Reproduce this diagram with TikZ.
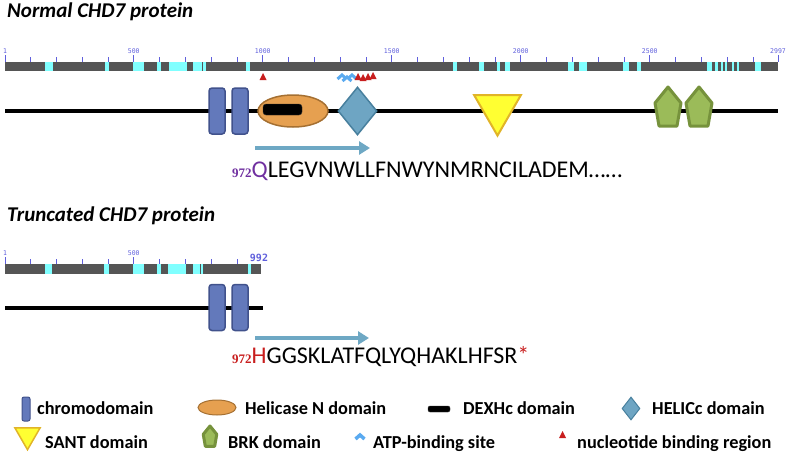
\documentclass[tikz,border=0pt]{standalone}
\usepackage{fontspec}
\setmainfont{Carlito}
\newfontfamily\serifnum{Liberation Serif}
\newfontfamily\rulerfont{DejaVu Sans Mono}
\usetikzlibrary{positioning, arrows.meta, shapes.geometric}
\definecolor{chromoblue}{RGB}{99,121,187}
\definecolor{chromoedge}{RGB}{65,82,140}
\definecolor{helorange}{RGB}{230,160,80}
\definecolor{heledge}{RGB}{165,112,50}
\definecolor{helicblue}{RGB}{110,165,195}
\definecolor{helicedge}{RGB}{72,128,158}
\definecolor{santyellow}{RGB}{255,255,50}
\definecolor{santedge}{RGB}{225,180,40}
\definecolor{brkgreen}{RGB}{155,187,89}
\definecolor{brkedge}{RGB}{118,146,60}
\definecolor{arrowblue}{RGB}{110,168,196}
\definecolor{segcyan}{RGB}{128,255,255}
\definecolor{bargray}{RGB}{85,85,85}
\definecolor{atpblue}{RGB}{90,170,240}
\definecolor{ntred}{RGB}{200,30,30}
\definecolor{qpurple}{RGB}{112,48,160}
\definecolor{rulerblue}{RGB}{95,95,220}
\newcommand{\titlefont}{\fontsize{21}{24}\selectfont\bfseries\itshape}
\newcommand{\legfont}{\fontsize{18.3}{20}\selectfont\bfseries}
\newcommand{\seqfont}{\fontsize{24}{27}\selectfont}
\newcommand{\numfont}{\fontsize{13}{15}\selectfont\serifnum\bfseries}
% residue -> pixel
\newcommand{\rx}[1]{5+(#1-1)*0.25801}
% BRK pentagon: centre x, top y, scale
\newcommand{\brkdom}[3]{\draw[brk] (#1,#2) -- ++(13*#3,16*#3) -- ++(-4*#3,23*#3)
  -- ++(-18*#3,0) -- ++(-4*#3,-23*#3) -- cycle;}
\newcommand{\ntri}[2]{\fill[ntred] (#1-3.5,#2) -- (#1,#2-7) -- (#1+3.5,#2) -- cycle;}
\newcommand{\atp}[3]{\draw[atpblue, line width=#3] (#1-4.5,#2+4) -- (#1,#2) -- (#1+4.5,#2+4);}
\begin{document}
\begin{tikzpicture}
[x=1pt, y=-1pt,
 chromo/.style={rectangle, rounded corners=3pt, fill=chromoblue, draw=chromoedge,
   line width=1.5pt, minimum width=16pt, minimum height=46pt, inner sep=0pt},
 helic/.style={ellipse, fill=helorange, draw=heledge, line width=1.5pt,
   minimum width=70pt, minimum height=32pt, inner sep=0pt},
 dexh/.style={rectangle, rounded corners=3pt, fill=black, draw=black!80,
   minimum width=39pt, minimum height=11pt, inner sep=0pt},
 helc/.style={diamond, fill=helicblue, draw=helicedge, line width=1.5pt,
   minimum width=39pt, minimum height=48pt, inner sep=0pt},
 sant/.style={regular polygon, regular polygon sides=3, shape border rotate=180,
   fill=santyellow, draw=santedge, line width=2pt, minimum size=54pt, inner sep=0pt},
 brk/.style={fill=brkgreen, draw=brkedge, line width=3pt, line join=round},
 bar/.style={fill=bargray},
 seg/.style={fill=segcyan},
 tick/.style={rulerblue, line width=0.8pt},
 rlab/.style={font=\rulerfont\fontsize{6.5}{7}\selectfont, text=rulerblue, inner sep=0pt},
 prot/.style={line width=4pt},
 ->/.style={arrowblue, line width=4.5pt, arrows={-Triangle[length=11pt, width=13pt]}},
 ttl/.style={anchor=base west, font=\titlefont, inner sep=0pt},
 seq/.style={anchor=base west, font=\seqfont, inner sep=0pt},
 leg/.style={anchor=base west, font=\legfont, inner sep=0pt}]
\useasboundingbox (0,0) rectangle (790,458);

% normal protein
\node[ttl] (t1) at (7,17) {Normal CHD7 protein};
\fill[bar] (5,62) rectangle (778,71);
\foreach \a/\b in {45/53,105/109,133/144,157/161,169/187,193/202,203/206,246/250,
  453/457,479/484,497/500,505/510,568/574,579/587,623/629,637/641,707/712,715/718,
  721/723,725/727,732/734,737/739,755/761}
  \fill[seg] (\a,62) rectangle (\b,71);
\foreach \r in {100,200,...,2900}
  \draw[tick] ({\rx{\r}},57) -- ({\rx{\r}},62);
\foreach \r in {1,500,1000,1500,2000,2500,2997}
  \draw[tick] ({\rx{\r}},55) -- ({\rx{\r}},62);
\foreach \r in {1,500,1000,1500,2000,2500,2997}
  \node[rlab] at ({\rx{\r}},51) {\r};
% binding sites
\ntri{263}{80}
\atp{342}{75}{3pt} \atp{347}{77}{3pt} \atp{352}{75}{3pt}
\ntri{358}{80} \ntri{363}{81} \ntri{368}{80} \ntri{373}{79}
% domains
\coordinate (l1s) at (5,111);
\coordinate (l1e) at (778,111);
\draw[prot] (l1s) -- (l1e);
\node[chromo] (c1) at (217,111) {};
\node[chromo] (c2) at (240,111) {};
\node[helic] (h1) at (293,111) {};
\node[dexh] (d1) at (282.5,109.5) {};
\node[helc] (hc1) at (357.5,111) {};
\node[sant] (s1) at (497.5,108.6) {};
\brkdom{668}{87}{1}
\brkdom{699}{87}{1}
\coordinate (a1s) at (255,148);
\coordinate (a1e) at (370,148);
\draw[->] (a1s) -- (a1e);
\node[seq] (q1) at (232,177) {{\numfont\color{qpurple}972}{\color{qpurple}Q}LEGVNWLLFNWYNMRNCILADEM……};

% truncated protein
\node[ttl] (t2) at (7,221) {Truncated CHD7 protein};
\fill[bar] (5,264) rectangle (261,274);
\foreach \a/\b in {45/52,104/109,133/144,157/161,168/186,193/200,201/203,248/251}
  \fill[seg] (\a,264) rectangle (\b,274);
\foreach \r in {100,200,...,900}
  \draw[tick] ({\rx{\r}},259) -- ({\rx{\r}},264);
\foreach \r in {1,500}
  \draw[tick] ({\rx{\r}},257) -- ({\rx{\r}},264);
\foreach \r in {1,500}
  \node[rlab] at ({\rx{\r}},253) {\r};
\node[rlab, font=\rulerfont\fontsize{10}{11}\selectfont\bfseries] (end2) at (259,258) {992};
\coordinate (l2s) at (5,308);
\coordinate (l2e) at (263,308);
\draw[prot] (l2s) -- (l2e);
\node[chromo] (c3) at (217,307.5) {};
\node[chromo] (c4) at (240,307.5) {};
\coordinate (a2s) at (255,338);
\coordinate (a2e) at (369,338);
\draw[->] (a2s) -- (a2e);
\node[seq] (q2) at (232,363) {{\numfont\color{ntred}972}{\color{ntred}H}GGSKLATFQLYQHAKLHFSR{\color{ntred}*}};

% key at the bottom:
\node[chromo, minimum width=8pt, minimum height=24pt, rounded corners=2pt, line width=1pt] (k1) at (26,409) {};
\node[helic, minimum width=38pt, minimum height=15pt, line width=1pt] (k2) at (217,407.5) {};
\node[dexh, minimum width=22pt, minimum height=6pt, rounded corners=2pt] (k3) at (439,409) {};
\node[helc, minimum width=18pt, minimum height=23pt, line width=1pt] (k4) at (631,408.5) {};
\node[sant, minimum size=29pt, line width=1.5pt] (k5) at (27.5,435.2) {};
\brkdom{210}{426}{0.52}
\atp{360}{435}{3.5pt}
\ntri{562.5}{438}
\node[leg] at (37,414) {chromodomain};
\node[leg] at (245,414) {Helicase N domain};
\node[leg] at (463,414) {DEXHc domain};
\node[leg] at (652,414) {HELICc domain};
\node[leg] at (45,448) {SANT domain};
\node[leg] at (228,448) {BRK domain};
\node[leg] at (373,448) {ATP-binding site};
\node[leg] at (577,448) {nucleotide binding region};
\end{tikzpicture}
\end{document}
